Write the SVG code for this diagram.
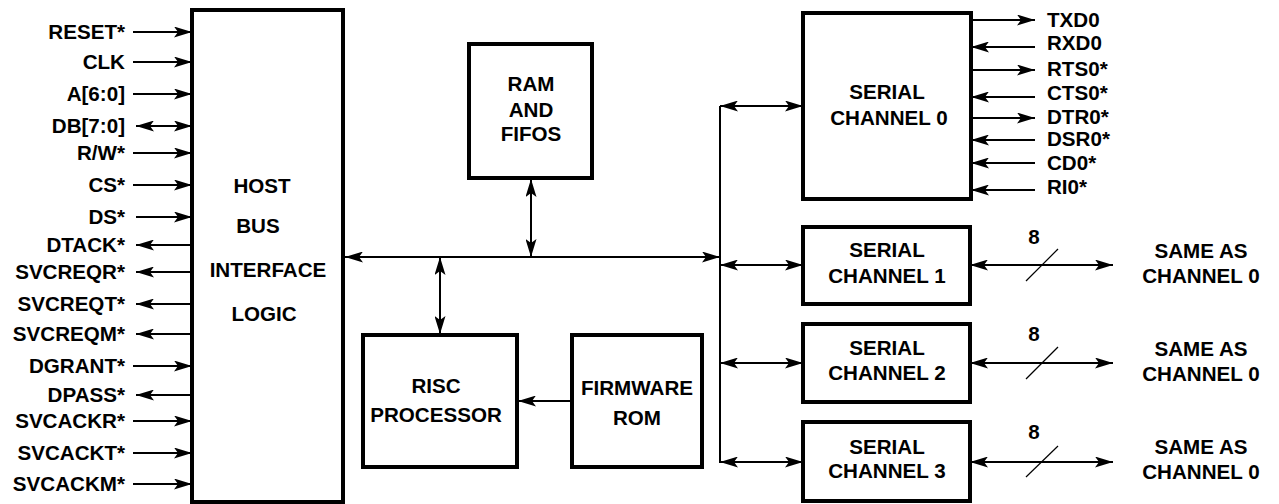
<svg xmlns="http://www.w3.org/2000/svg" width="1279" height="504" viewBox="0 0 1279 504">
<style>
.box{fill:#fff;stroke:#000;stroke-width:4}
.t{font-family:"Liberation Sans",Arial,sans-serif;font-weight:bold;font-size:20.6px;fill:#000}
.m{text-anchor:middle}
.r{text-anchor:end}
.c{stroke:#000;stroke-width:2;fill:none}
.a{marker-end:url(#ah)}
.b{marker-start:url(#ah);marker-end:url(#ah)}
.s{stroke:#000;stroke-width:1.2;fill:none}
</style>
<defs>
<marker id="ah" viewBox="0 0 18 11" refX="18" refY="5.5" markerWidth="18" markerHeight="11" markerUnits="userSpaceOnUse" orient="auto-start-reverse">
<path d="M0,0 L18,5.5 L0,11 L4,5.5 Z" fill="#000"/>
</marker>
</defs>
<rect width="1279" height="504" fill="#fff"/>

<g id="connectors">
<!-- left signals -->
<line class="c a" x1="133" y1="32" x2="192" y2="32"/>
<line class="c a" x1="133" y1="62" x2="192" y2="62"/>
<line class="c a" x1="133" y1="94" x2="192" y2="94"/>
<line class="c b" x1="136" y1="126" x2="192" y2="126"/>
<line class="c a" x1="133" y1="153" x2="192" y2="153"/>
<line class="c a" x1="133" y1="185" x2="192" y2="185"/>
<line class="c a" x1="136" y1="217" x2="192" y2="217"/>
<line class="c a" x1="192" y1="245" x2="136" y2="245"/>
<line class="c a" x1="192" y1="272" x2="136" y2="272"/>
<line class="c a" x1="192" y1="304" x2="136" y2="304"/>
<line class="c a" x1="192" y1="334" x2="136" y2="334"/>
<line class="c a" x1="133" y1="366" x2="192" y2="366"/>
<line class="c a" x1="192" y1="395" x2="136" y2="395"/>
<line class="c a" x1="133" y1="421" x2="192" y2="421"/>
<line class="c a" x1="133" y1="453" x2="192" y2="453"/>
<line class="c a" x1="133" y1="484" x2="192" y2="484"/>
<!-- internal bus -->
<line class="c b" x1="345" y1="257" x2="720" y2="257"/>
<line class="c" x1="720" y1="106" x2="720" y2="463"/>
<line class="c b" x1="531" y1="179" x2="531" y2="257"/>
<line class="c b" x1="440" y1="257" x2="440" y2="334"/>
<line class="c a" x1="572" y1="401" x2="518" y2="401"/>
<line class="c b" x1="720" y1="106" x2="803" y2="106"/>
<line class="c b" x1="720" y1="265" x2="803" y2="265"/>
<line class="c b" x1="720" y1="363" x2="803" y2="363"/>
<line class="c b" x1="720" y1="462" x2="803" y2="462"/>
<!-- channel 0 signals -->
<line class="c a" x1="971" y1="20" x2="1035" y2="20"/>
<line class="c a" x1="1035" y1="47" x2="971" y2="47"/>
<line class="c a" x1="971" y1="70" x2="1035" y2="70"/>
<line class="c a" x1="1035" y1="97" x2="971" y2="97"/>
<line class="c a" x1="971" y1="118" x2="1035" y2="118"/>
<line class="c a" x1="1035" y1="140" x2="971" y2="140"/>
<line class="c a" x1="1035" y1="163" x2="971" y2="163"/>
<line class="c a" x1="1035" y1="190" x2="971" y2="190"/>
<!-- channels 1-3 outputs -->
<line class="c b" x1="970" y1="265" x2="1113" y2="265"/>
<line class="s" x1="1026" y1="281" x2="1058" y2="249"/>
<line class="c b" x1="970" y1="363" x2="1113" y2="363"/>
<line class="s" x1="1026" y1="379" x2="1058" y2="347"/>
<line class="c b" x1="970" y1="462" x2="1113" y2="462"/>
<line class="s" x1="1026" y1="477" x2="1058" y2="446"/>
</g>

<g id="signals-left" class="t r">
<text x="125" y="39">RESET*</text>
<text x="125" y="69">CLK</text>
<text x="125" y="101">A[6:0]</text>
<text x="125" y="133">DB[7:0]</text>
<text x="125" y="160">R/W*</text>
<text x="125" y="192">CS*</text>
<text x="125" y="224">DS*</text>
<text x="125" y="252">DTACK*</text>
<text x="125" y="279">SVCREQR*</text>
<text x="125" y="311">SVCREQT*</text>
<text x="125" y="341">SVCREQM*</text>
<text x="125" y="373">DGRANT*</text>
<text x="125" y="402">DPASS*</text>
<text x="125" y="428">SVCACKR*</text>
<text x="125" y="460">SVCACKT*</text>
<text x="125" y="491">SVCACKM*</text>
</g>

<g id="host">
<rect class="box" x="192" y="10" width="151" height="492"/>
<text class="t m" x="262" y="193">HOST</text>
<text class="t m" x="258" y="233">BUS</text>
<text class="t m" x="268" y="277">INTERFACE</text>
<text class="t m" x="264" y="321">LOGIC</text>
</g>

<g id="ram">
<rect class="box" x="469" y="44" width="123" height="134"/>
<text class="t m" x="531" y="91">RAM</text>
<text class="t m" x="531" y="117">AND</text>
<text class="t m" x="531" y="141">FIFOS</text>
</g>

<g id="risc">
<rect class="box" x="363" y="335" width="154" height="132"/>
<text class="t m" x="436" y="393">RISC</text>
<text class="t m" x="436" y="422">PROCESSOR</text>
</g>

<g id="firmware">
<rect class="box" x="572" y="335" width="130" height="132"/>
<text class="t m" x="637" y="395">FIRMWARE</text>
<text class="t m" x="637" y="425">ROM</text>
</g>

<g id="serial0">
<rect class="box" x="803" y="13" width="168" height="186"/>
<text class="t m" x="887" y="99">SERIAL</text>
<text class="t m" x="889" y="125">CHANNEL 0</text>
</g>

<g id="signals-right" class="t">
<text x="1047" y="27">TXD0</text>
<text x="1047" y="50">RXD0</text>
<text x="1047" y="76">RTS0*</text>
<text x="1047" y="100">CTS0*</text>
<text x="1047" y="124">DTR0*</text>
<text x="1047" y="146">DSR0*</text>
<text x="1047" y="170">CD0*</text>
<text x="1047" y="194">RI0*</text>
</g>

<g id="serial1">
<rect class="box" x="803" y="227" width="167" height="77"/>
<text class="t m" x="887" y="257">SERIAL</text>
<text class="t m" x="887" y="283">CHANNEL 1</text>
</g>
<g id="serial2">
<rect class="box" x="803" y="324" width="167" height="78"/>
<text class="t m" x="887" y="355">SERIAL</text>
<text class="t m" x="887" y="380">CHANNEL 2</text>
</g>
<g id="serial3">
<rect class="box" x="803" y="422" width="167" height="79"/>
<text class="t m" x="887" y="454">SERIAL</text>
<text class="t m" x="887" y="478">CHANNEL 3</text>
</g>

<g id="labels" class="t m">
<text x="1034" y="244">8</text>
<text x="1034" y="341">8</text>
<text x="1034" y="439">8</text>
<text x="1201" y="258">SAME AS</text>
<text x="1201" y="283">CHANNEL 0</text>
<text x="1201" y="356">SAME AS</text>
<text x="1201" y="381">CHANNEL 0</text>
<text x="1201" y="454">SAME AS</text>
<text x="1201" y="479">CHANNEL 0</text>
</g>
</svg>
